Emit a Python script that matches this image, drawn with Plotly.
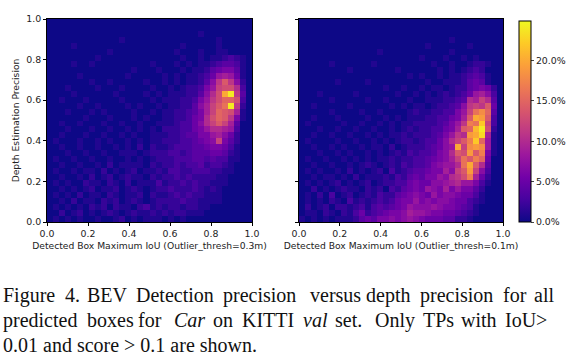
import plotly.graph_objects as go

W, H = 566, 357
GRID = 34

# Percent values, top row first; one base-36 digit per cell.
left_rows = [
    "00000000000000000000" "00000000000000",
    "00000000000000000000" "00000000000000",
    "00000000000000000000" "00000100000000",
    "00000000000010000000" "00000000100000",
    "00001000000000000000" "00100000100000",
    "00000000001000000000" "01000100110000",
    "00000000100000000000" "00100101123210",
    "00001001000000000100" "01010112344310",
    "00000000000000100010" "00101124566410",
    "00000100000001000001" "01011235898510",
    "00000001001000001001" "01011247beb720",
    "00010000100010000100" "10122368cdda30",
    "00001000000100001010" "1112247adkob40",
    "00100010000010000101" "1122368bdffd30",
    "00000100100001010010" "1122479cegob20",
    "00010001010000100101" "1223469cfed910",
    "00000010001000101001" "122356adfeb610",
    "00100100010010010011" "123357acec9400",
    "00010001001001010102" "2233568aa98300",
    "00100010010010100111" "22344668975200",
    "01000100101001010112" "22334567c64200",
    "00100100100101020211" "23334456653100",
    "00010010010011101222" "33234445542100",
    "01001001001001010122" "23334434331100",
    "00100100102011110212" "23233423321000",
    "01001011020101201121" "33223332211000",
    "00100102012012110212" "23232222110000",
    "01010021102102011131" "22323221110000",
    "00101012011201210122" "32223212100000",
    "01010201102101120211" "23232211100000",
    "00102011021201210122" "22322111100000",
    "01010102120211023121" "22122110000000",
    "00201201012101211212" "12211100000000",
    "01010100100120101110" "10100000000000",
]

right_rows = [
    "00000000000000000000" "00000000000000",
    "00000000000000000000" "00000000000000",
    "00000000000000000000" "00000000000000",
    "00000000000000000000" "00000100000000",
    "00000000000000000000" "01000000100000",
    "00000000000001000000" "00000100000000",
    "00000000000000000000" "10001001010000",
    "00000100000010000000" "00100100122100",
    "00000000100000001000" "00010101232000",
    "00000000000000000010" "10010112343100",
    "00000010000100000000" "01001112454100",
    "00000000000000100100" "10110122456520",
    "00010000010000001001" "01012123589730",
    "00000100000100100010" "01112234a9ca40",
    "00100000100000010101" "10122347bcbe50",
    "00000100001001000012" "11223368cgif40",
    "00100010000100101011" "12233569ekje30",
    "01000001001001010112" "2223468bhgmc30",
    "00010010010010010121" "2233569eflod20",
    "00100100100101011212" "223468bajkn910",
    "01000010010010101221" "23357acehmf810",
    "00100101001011020122" "234578kciji810",
    "00010010100101012132" "33467aedjeh610",
    "01001001010101121223" "345679cgehf500",
    "00100100101210121323" "346788agkea400",
    "01010010201012031234" "456697cejc7300",
    "00101101020111213245" "46687abdh95200",
    "01010120101201223356" "557789a8863100",
    "00201012110212032456" "58769686642000",
    "01020301201213224567" "65867765531000",
    "01010210312123235668" "67677655321000",
    "02012022123134345687" "77876654310000",
    "01102102135234566798" "87665543210000",
    "10101011124546676787" "65554422100000",
]

x_title_left = "Detected Box Maximum IoU (Outlier_thresh=0.3m)"
x_title_right = "Detected Box Maximum IoU (Outlier_thresh=0.1m)"
y_title = "Depth Estimation Precision"
caption_line1 = ["Figure", "4.", "BEV", "Detection", "precision", "versus", "depth", "precision", "for", "all"]
caption_line1_x = [3, 65, 87, 136, 223, 310, 366, 420, 503, 534]
caption_line2 = ["predicted", "boxes", "for", "<i>Car</i>", "on", "KITTI", "<i>val</i>", "set.", "Only", "TPs", "with", "IoU>"]
caption_line2_x = [3, 87, 138, 174, 213, 242, 303, 335, 375, 423, 461, 505]
caption_line3 = "0.01 and score > 0.1 are shown."
color_max = 24.9


def decode(rows):
    return [[int(c, 36) for c in r] for r in rows[::-1]]


def px_x(a, b):
    return [a / W, b / W]


def px_y(top, bottom):
    return [1 - bottom / H, 1 - top / H]


TICK = dict(family="DejaVu Sans", size=9.4, color="#222")
fig = go.Figure()
common = dict(x0=0.5 / GRID, dx=1 / GRID, y0=0.5 / GRID, dy=1 / GRID,
              colorscale="Plasma", zmin=0, zmax=color_max)
fig.add_trace(go.Heatmap(z=decode(left_rows), showscale=False, xaxis="x", yaxis="y", **common))
fig.add_trace(go.Heatmap(
    z=decode(right_rows), xaxis="x2", yaxis="y2", **common,
    colorbar=dict(
        x=518.5 / W, xanchor="left", xref="paper",
        y=1 - 222 / H, yanchor="bottom", yref="paper",
        lenmode="pixels", len=201, thicknessmode="pixels", thickness=12,
        outlinecolor="black", outlinewidth=1,
        tick0=0, dtick=5, ticks="outside", ticklen=3, tickwidth=1,
        tickformat=".1f", ticksuffix="%", tickfont=TICK, xpad=0, ypad=0,
    ),
))

axis = dict(range=[0, 1], dtick=0.2, tick0=0, tickformat=".1f", ticks="outside",
            ticklen=3, tickwidth=1, tickcolor="black", showline=True, linecolor="black",
            linewidth=1, mirror=True, showgrid=False, zeroline=False, tickfont=TICK,
            automargin=False)
title_font = dict(family="DejaVu Sans", size=9.2, color="#222")
fig.update_layout(
    width=W, height=H, margin=dict(l=0, r=0, t=0, b=0),
    paper_bgcolor="white", plot_bgcolor="white",
    xaxis=dict(axis, domain=px_x(47, 252), anchor="y",
               title=dict(text=x_title_left, font=title_font, standoff=4)),
    yaxis=dict(axis, domain=px_y(19, 222), anchor="x",
               title=dict(text=y_title, font=title_font, standoff=4)),
    xaxis2=dict(axis, domain=px_x(299, 503), anchor="y2",
                title=dict(text=x_title_right, font=title_font, standoff=4)),
    yaxis2=dict(axis, domain=px_y(19, 222), anchor="x2", showticklabels=False),
)


def caption(text, x, y):
    fig.add_annotation(text=text, xref="paper", yref="paper", x=(x - 2) / W, y=1 - y / H,
                       xanchor="left", yanchor="middle", showarrow=False, align="left",
                       font=dict(family="Liberation Serif", size=20, color="#111"))


for word, x in zip(caption_line1, caption_line1_x):
    caption(word, x, 295)
for word, x in zip(caption_line2, caption_line2_x):
    caption(word, x, 320)
caption(caption_line3, 3, 345)

fig.write_html("out.html", config=dict(displayModeBar=False),
               post_script="document.body.style.margin='0';")
